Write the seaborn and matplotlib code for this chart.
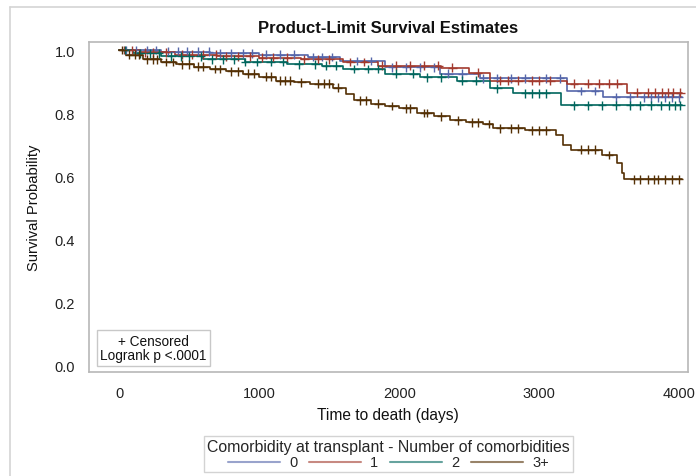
import numpy as np
import pandas as pd
import matplotlib
matplotlib.use("Agg")
import matplotlib.pyplot as plt
from matplotlib.lines import Line2D
import seaborn as sns

# ---------------- data ----------------
groups = ["0", "1", "2", "3+"]
colors = ["#5566aa", "#a23a2e", "#01665e", "#543005"]

t_0 = [0, 300, 650, 1000, 1350, 1580, 1900, 2290, 2575, 3200, 3460, 4020]
s_0 = [1.0, 0.995, 0.99, 0.985, 0.978, 0.965, 0.945, 0.925, 0.91, 0.87, 0.85, 0.85]

t_1 = [0, 150, 400, 700, 1000, 1300, 1600, 1850, 2300, 2500, 2650, 3200, 3630, 4020]
s_1 = [1.0, 0.993, 0.985, 0.98, 0.975, 0.97, 0.962, 0.95, 0.944, 0.928, 0.903, 0.893, 0.865, 0.865]

t_2 = [0, 100, 300, 600, 900, 1200, 1450, 1600, 1900, 2150, 2410, 2650, 2810, 3160, 4020]
s_2 = [1.0, 0.99, 0.98, 0.97, 0.962, 0.955, 0.95, 0.94, 0.925, 0.913, 0.903, 0.878, 0.862, 0.825, 0.825]

t_3 = [0, 50, 165, 300, 405, 530, 645, 760, 880, 1000, 1120, 1250, 1360, 1525, 1620,
       1680, 1800, 1900, 2000, 2125, 2250, 2360, 2480, 2600, 2670, 2900, 3120, 3170,
       3230, 3450, 3560, 3590, 3610, 4020]
s_3 = [1.0, 0.985, 0.97, 0.962, 0.955, 0.947, 0.94, 0.932, 0.925, 0.915, 0.903, 0.898,
       0.893, 0.88, 0.86, 0.84, 0.83, 0.822, 0.815, 0.8, 0.79, 0.777, 0.77, 0.765,
       0.752, 0.745, 0.73, 0.7, 0.683, 0.667, 0.64, 0.61, 0.589, 0.589]

c_0 = [50, 120, 200, 260, 350, 420, 480, 560, 640, 720, 800, 880, 950, 1050, 1150,
       1250, 1380, 1450, 1520, 1700, 1800, 1950, 2050, 2150, 2250, 2350, 2450, 2600,
       2700, 2800, 2900, 3050, 3150, 3300, 3400, 3550, 3650, 3750, 3800, 3850, 3900,
       3950, 4000]
c_1 = [30, 90, 180, 240, 330, 450, 520, 600, 690, 760, 850, 930, 1020, 1100, 1200,
       1320, 1420, 1500, 1650, 1750, 1880, 1980, 2080, 2180, 2280, 2380, 2560, 2720,
       2780, 2850, 2950, 3000, 3080, 3250, 3350, 3430, 3500, 3560, 3700, 3780, 3830,
       3880, 3920, 3960, 4010]
c_2 = [40, 150, 220, 280, 370, 440, 500, 580, 660, 740, 820, 900, 980, 1080, 1170,
       1280, 1400, 1480, 1550, 1680, 1780, 1850, 1980, 2100, 2200, 2300, 2450, 2550,
       2700, 2900, 2950, 3000, 3050, 3250, 3350, 3450, 3550, 3650, 3720, 3800, 3870,
       3930, 3970, 4010]
c_3 = [20, 70, 110, 140, 200, 240, 270, 330, 380, 450, 500, 560, 600, 680, 720, 800,
       850, 920, 960, 1050, 1080, 1150, 1180, 1220, 1300, 1420, 1460, 1500, 1560, 1720,
       1760, 1850, 1950, 2050, 2080, 2180, 2200, 2300, 2420, 2520, 2560, 2640, 2720,
       2800, 2850, 2950, 3000, 3050, 3300, 3350, 3400, 3500, 3680, 3720, 3780, 3820,
       3850, 3900, 3950, 4000]

x_ticks = [0, 1000, 2000, 3000, 4000]
y_ticks = [0.0, 0.2, 0.4, 0.6, 0.8, 1.0]

title = "Product-Limit Survival Estimates"
xlabel = "Time to death (days)"
ylabel = "Survival Probability"
legend_title = "Comorbidity at transplant - Number of comorbidities"
inset_text = "+ Censored\nLogrank p <.0001"

# ---------------- build tables ----------------
times = [t_0, t_1, t_2, t_3]
survs = [s_0, s_1, s_2, s_3]
cens = [c_0, c_1, c_2, c_3]

curve_df = pd.concat(
    [pd.DataFrame({"t": t, "S": s, "group": g}) for g, t, s in zip(groups, times, survs)],
    ignore_index=True)

cens_rows = []
for g, t, s, c in zip(groups, times, survs, cens):
    t_arr = np.asarray(t)
    s_arr = np.asarray(s)
    idx = np.searchsorted(t_arr, np.asarray(c), side="right") - 1
    cens_rows.append(pd.DataFrame({"t": c, "S": s_arr[idx], "group": g}))
cens_df = pd.concat(cens_rows, ignore_index=True)

# ---------------- plot ----------------
sns.set_theme(style="white")
plt.rcParams["font.family"] = ["Liberation Sans", "DejaVu Sans"]

W, H = 696, 477
fig = plt.figure(figsize=(W / 100, H / 100), dpi=100)
ax_l, ax_r, ax_t, ax_b = 89, 687.5, 43, 373
ax = fig.add_axes([ax_l / W, 1 - ax_b / H, (ax_r - ax_l) / W, (ax_b - ax_t) / H])

palette = dict(zip(groups, colors))
sns.lineplot(data=curve_df, x="t", y="S", hue="group", palette=palette,
             hue_order=groups, drawstyle="steps-post", estimator=None,
             sort=False, linewidth=1.2, ax=ax)
sns.scatterplot(data=cens_df, x="t", y="S", hue="group", palette=palette,
                hue_order=groups, marker="+", s=40, linewidth=1.0,
                legend=False, ax=ax, zorder=3)

ax.set_xlim(-218, 4061)
ax.set_ylim(-0.0222, 1.0254)
ax.set_xticks(x_ticks)
ax.set_xticklabels([str(v) for v in x_ticks])
ax.set_yticks(y_ticks)
ax.set_yticklabels([f"{v:.1f}" for v in y_ticks])

for sp in ax.spines.values():
    sp.set_color("#b8b8b8")
    sp.set_linewidth(1.2)
ax.tick_params(axis="both", direction="out", length=6, width=1,
               color="#a0a0a0", labelsize=10.5, labelcolor="#222222", pad=4)

ax.set_xlabel(xlabel, fontsize=11.2, color="#111111", labelpad=5)
ax.set_ylabel(ylabel, fontsize=10.6, color="#111111", labelpad=10)
ax.set_title(title, fontsize=12, fontweight="bold", color="#111111", pad=7)

ax.text(0.0185, 0.030, inset_text, transform=ax.transAxes, ha="left", va="bottom",
        fontsize=9.8, color="#111111", multialignment="center", linespacing=1.05,
        bbox=dict(boxstyle="square,pad=0.25", fc="white", ec="#c8c8c8", lw=1))

handles, labels = ax.get_legend_handles_labels()
ax.get_legend().remove()
leg = fig.legend(handles, labels, loc="upper center", bbox_to_anchor=(0.558, 0.099),
                 ncol=4, title=legend_title, fontsize=10.5, title_fontsize=11.4,
                 frameon=True, fancybox=False, edgecolor="#c8c8c8",
                 handlelength=3.6, handletextpad=0.6, columnspacing=0.8,
                 borderpad=0.2, labelspacing=0.1, handleheight=0.6)
leg.get_frame().set_linewidth(1)
for ln in leg.get_lines():
    ln.set_alpha(0.6)
    ln.set_linewidth(1.5)

# outer frame lines
fig.add_artist(Line2D([10 / W, 1.0], [1 - 7.5 / H, 1 - 7.5 / H],
                      transform=fig.transFigure, color="#d4d4d4", lw=1.2))
fig.add_artist(Line2D([10 / W, 10 / W], [0.0, 1 - 7.5 / H],
                      transform=fig.transFigure, color="#d4d4d4", lw=1.2))

fig.savefig("out.png", dpi=100)
